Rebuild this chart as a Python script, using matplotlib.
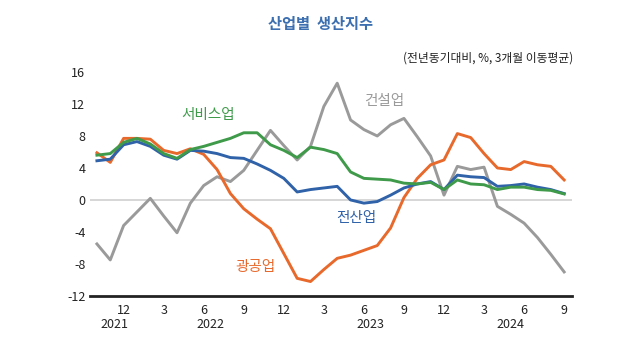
import matplotlib
matplotlib.use("Agg")
import matplotlib.pyplot as plt

plt.rcParams["font.family"] = ["Noto Sans CJK KR", "DejaVu Sans"]
plt.rcParams["axes.unicode_minus"] = False

# 2021.10 ~ 2024.9, monthly (3-month moving average, yoy %)
months = list(range(36))
total = [4.9, 5.1, 6.9, 7.3, 6.7, 5.6, 5.1, 6.2, 6.1, 5.8, 5.3, 5.2,
         4.5, 3.7, 2.7, 1.0, 1.3, 1.5, 1.7, 0.0, -0.4, -0.2, 0.6, 1.5,
         2.0, 2.3, 1.3, 3.1, 2.9, 2.8, 1.7, 1.8, 2.0, 1.6, 1.3, 0.8]
mining = [5.9, 4.7, 7.7, 7.7, 7.6, 6.2, 5.8, 6.4, 5.7, 3.8, 0.8, -1.1,
          -2.4, -3.6, -6.7, -9.8, -10.2, -8.7, -7.3, -6.9, -6.3, -5.7, -3.5, 0.3,
          2.7, 4.4, 5.0, 8.3, 7.8, 5.8, 4.0, 3.8, 4.8, 4.4, 4.2, 2.5]
service = [5.6, 5.8, 7.2, 7.7, 7.0, 5.8, 5.2, 6.3, 6.7, 7.2, 7.7, 8.4,
           8.4, 6.9, 6.2, 5.3, 6.6, 6.3, 5.8, 3.5, 2.7, 2.6, 2.5, 2.1,
           2.0, 2.2, 1.3, 2.5, 2.0, 1.9, 1.3, 1.6, 1.6, 1.3, 1.2, 0.75]
construct = [-5.5, -7.5, -3.2, -1.5, 0.2, -2.0, -4.1, -0.4, 1.8, 2.9, 2.3, 3.7,
             6.2, 8.7, 6.8, 5.0, 6.7, 11.7, 14.6, 10.0, 8.8, 8.0, 9.4, 10.2,
             7.9, 5.5, 0.6, 4.2, 3.8, 4.1, -0.8, -1.8, -2.9, -4.7, -6.8, -9.0]

tick_pos = [2, 5, 8, 11, 14, 17, 20, 23, 26, 29, 32, 35]
tick_lab = ["12", "3", "6", "9", "12", "3", "6", "9", "12", "3", "6", "9"]
year_pos = [1.3, 8.5, 20.5, 31]
year_lab = ["2021", "2022", "2023", "2024"]

c_total = "#2f62a8"
c_mining = "#e8692c"
c_service = "#3f9a4a"
c_const = "#9a9a9a"

fig = plt.figure(figsize=(6.4, 3.6), dpi=100)
ax = fig.add_axes([0.141, 0.178, 0.753, 0.622])

ax.axhline(0, color="#d0d0d0", lw=1.2, zorder=1)
ax.plot(months, construct, color=c_const, lw=2.1, zorder=2)
ax.plot(months, mining, color=c_mining, lw=2.1, zorder=3)
ax.plot(months, total, color=c_total, lw=2.1, zorder=4)
ax.plot(months, service, color=c_service, lw=2.1, zorder=5)

ax.set_xlim(-0.5, 35.6)
ax.set_ylim(-12, 16)
ax.set_yticks(range(-12, 17, 4))
ax.set_xticks(tick_pos)
ax.set_xticklabels(tick_lab)
ax.tick_params(length=0, labelsize=9, colors="#222222")
ax.tick_params(axis="x", pad=6)
for s in ["top", "right", "left"]:
    ax.spines[s].set_visible(False)
ax.spines["bottom"].set_linewidth(2)
ax.spines["bottom"].set_color("#222222")

for p, t in zip(year_pos, year_lab):
    ax.text(p, -15.6, t, ha="center", va="center", fontsize=9, color="#222222")

lab_kw = dict(fontsize=10.5, ha="center", va="center", fontweight="medium")
ax.text(8.3, 10.6, "서비스업", color=c_service, **lab_kw)
ax.text(21.5, 12.4, "건설업", color=c_const, **lab_kw)
ax.text(19.4, -2.2, "전산업", color=c_total, **lab_kw)
ax.text(11.9, -8.4, "광공업", color=c_mining, **lab_kw)

fig.text(0.5, 0.933, "산업별  생산지수", ha="center", va="center", fontsize=11,
         fontweight="bold", color="#3b6fb0")
fig.text(0.895, 0.838, "(전년동기대비, %, 3개월 이동평균)", ha="right", va="center",
         fontsize=8.5, color="#222222")

fig.savefig("out.png", dpi=100)
